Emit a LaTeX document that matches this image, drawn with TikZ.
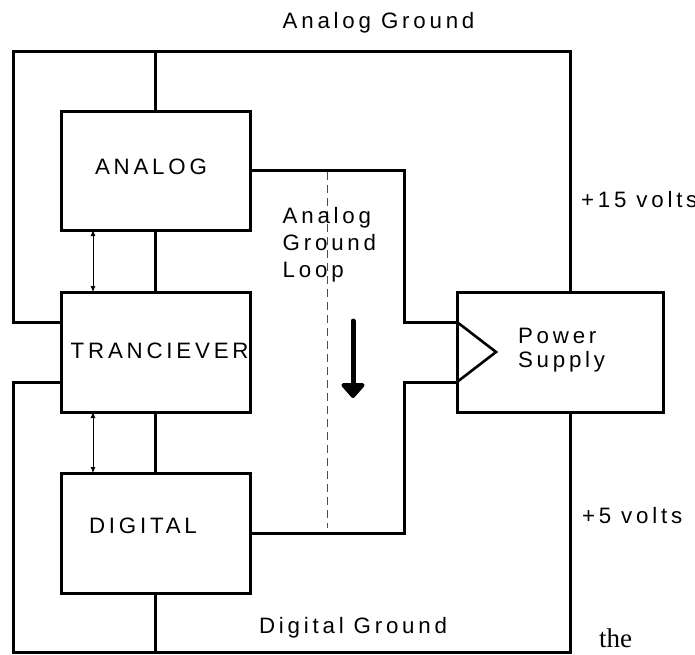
\documentclass[tikz,border=0pt]{standalone}
\usepackage{fontspec}
\setmainfont{Liberation Sans}[LetterSpace=17]
\newfontfamily\thefont{Liberation Serif}
\usetikzlibrary{arrows.meta,calc}
\tikzset{
  blk/.style={draw,line width=3pt,rectangle,minimum width=189pt,minimum height=120pt,inner sep=0pt,outer sep=0pt},
  wire/.style={line width=3pt},
  lbl/.style={inner sep=0pt,outer sep=0pt,anchor=base west,font=\fontsize{22.3}{26}\selectfont},
  thinarr/.style={line width=0.9pt,{Latex[length=6pt,width=5pt]}-{Latex[length=6pt,width=5pt]}},
}
\begin{document}
\begin{tikzpicture}[x=1pt,y=-1pt]
\useasboundingbox (0,0) rectangle (695,654);
% boxes
\node[blk,minimum height=119pt] (analog) at (155.5,170.5) {};
\node[blk] (trans) at (155.5,352) {};
\node[blk] (digital) at (155.5,533) {};
\node[blk,minimum width=206pt] (ps) at (560,352) {};
% frame coordinates
\coordinate (tl) at (13.5,51);
\coordinate (tr) at (570,51);
\coordinate (bl) at (13.5,652);
\coordinate (br) at (570,652);
\coordinate (ta) at ($(trans.west)+(0,-30)$);
\coordinate (tb) at ($(trans.west)+(0,30)$);
\coordinate (pa) at ($(ps.west)+(0,-30)$);
\coordinate (pb) at ($(ps.west)+(0,30)$);
\coordinate (tip) at (496,352);
\coordinate (ja) at (404,0);
% analog ground loop
\draw[wire,line join=miter] (ta) -- (ta -| tl) -- (tl) -- (tr) -- (tr |- ps.north);
\draw[wire] (analog.north) -- (analog.north |- tl);
\draw[wire] (analog.south) -- (trans.north);
% digital ground loop
\draw[wire,line join=miter] (tb) -- (tb -| bl) -- (bl) -- (br) -- (br |- ps.south);
\draw[wire] (trans.south) -- (digital.north);
\draw[wire] (digital.south) -- (digital.south |- bl);
% supply wires
\draw[wire,line join=miter] (analog.east) -- (analog.east -| ja) -- (pa -| ja) -- (pa);
\draw[wire,line join=miter] (digital.east) -- (digital.east -| ja) -- (pb -| ja) -- (pb);
\draw[line width=2.6pt,line join=miter] (pa) -- (tip) -- (pb);
% data arrows
\draw[thinarr] ($(analog.south west)+(32,0)$) -- ($(trans.north west)+(32,0)$);
\draw[thinarr] ($(trans.south west)+(32,0)$) -- ($(digital.north west)+(32,0)$);
% dashed loop line
\coordinate (da) at (327,172);
\coordinate (db) at (327,528);
\draw[gray!60!black,line width=1pt,dash pattern=on 8pt off 5pt] (da) -- (db);
% bold current arrow
\coordinate (aa) at (353,321);
\coordinate (ab) at (353,398);
\draw[line width=5pt,line cap=round,-{Triangle[length=16pt,width=27pt,round=false]}] (aa) -- (ab);
% labels
\node[lbl] (lag) at (282.7,28) {Analog Ground};
\node[lbl] (lan) at (95,174) {ANALOG};
\node[lbl] (ltr) at (70.7,358.3) {TRANCIEVER};
\node[lbl] (ldi) at (89,533.3) {DIGITAL};
\node[lbl] (ll1) at (282.7,223) {Analog};
\node[lbl] (ll2) at (282.7,250) {Ground};
\node[lbl] (ll3) at (282.7,277) {Loop};
\node[lbl] (lp1) at (518,343) {Power};
\node[lbl] (lp2) at (518,367) {Supply};
\node[lbl] (l15) at (581,207) {+15 volts};
\node[lbl] (l5) at (582,523) {+5 volts};
\node[lbl] (ldg) at (259,633) {Digital Ground};
\node[inner sep=0pt,anchor=base west,font=\thefont\fontsize{27}{30}\selectfont] (lthe) at (599,647) {the};
\end{tikzpicture}
\end{document}
